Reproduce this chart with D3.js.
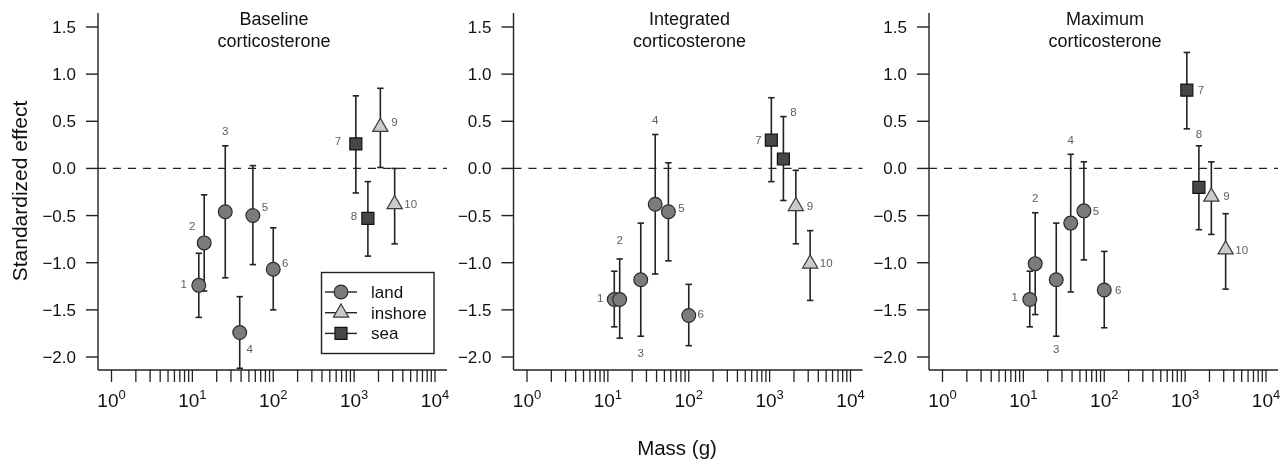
<!DOCTYPE html>
<html>
<head>
<meta charset="utf-8">
<script src="https://cdn.jsdelivr.net/npm/d3@7"></script>
<style>
  html, body { margin: 0; padding: 0; background: #fff; }
  svg { display: block; font-family: "Liberation Sans", Arial, Helvetica, sans-serif; filter: grayscale(100%); }
</style>
</head>
<body>
<svg id="chart" width="1288" height="464"></svg>
<script>
// ---------- data ----------
const species = [1, 2, 3, 4, 5, 6, 7, 8, 9, 10];
const habitat = ["land", "land", "land", "land", "land", "land", "sea", "sea", "inshore", "inshore"];
const mass = [12, 14, 25.5, 38.5, 56, 100, 1050, 1480, 2110, 3170];

const panelTitles = [["Baseline", "corticosterone"], ["Integrated", "corticosterone"], ["Maximum", "corticosterone"]];

const baselineEst = [-1.24, -0.79, -0.46, -1.74, -0.50, -1.07, 0.26, -0.53, 0.44, -0.38];
const baselineLo  = [-1.58, -1.30, -1.16, -2.12, -1.02, -1.50, -0.26, -0.93, 0.01, -0.80];
const baselineHi  = [-0.90, -0.28, 0.24, -1.36, 0.03, -0.63, 0.77, -0.14, 0.85, 0.00];

const integratedEst = [-1.39, -1.39, -1.18, -0.38, -0.46, -1.56, 0.30, 0.10, -0.40, -1.01];
const integratedLo  = [-1.68, -1.80, -1.78, -1.12, -0.98, -1.88, -0.14, -0.34, -0.80, -1.40];
const integratedHi  = [-1.09, -0.96, -0.58, 0.36, 0.06, -1.23, 0.75, 0.55, -0.02, -0.66];

const maximumEst = [-1.39, -1.01, -1.18, -0.58, -0.45, -1.29, 0.83, -0.20, -0.30, -0.86];
const maximumLo  = [-1.68, -1.55, -1.78, -1.31, -0.97, -1.69, 0.42, -0.65, -0.70, -1.28];
const maximumHi  = [-1.09, -0.47, -0.58, 0.15, 0.07, -0.88, 1.23, 0.24, 0.07, -0.48];

const yTicks = [-2.0, -1.5, -1.0, -0.5, 0.0, 0.5, 1.0, 1.5];
const xMajorExp = [0, 1, 2, 3, 4];
const legendItems = ["land", "inshore", "sea"];
const xTitle = "Mass (g)";
const yTitle = "Standardized effect";

// label placement (anchor: pt = marker, hi = top of bar, lo = bottom of bar), pixel offsets
const labelPlace = [
  [["pt",-15,-1],["pt",-12,-17],["hi",0,-15],["pt",10,16],["pt",12,-9],["pt",12,-6],["pt",-18,-3],["pt",-14,-2],["pt",14,-5],["pt",16,0]],
  [["pt",-14,-2],["hi",0,-19],["lo",0,17],["hi",0,-15],["pt",13,-4],["pt",12,-2],["pt",-13,0],["hi",10,-5],["pt",14,0],["pt",16,-1]],
  [["pt",-15,-3],["hi",0,-15],["lo",0,13],["hi",0,-14],["pt",12,0],["pt",14,0],["pt",14,0],["hi",0,-12],["pt",15,-1],["pt",16,0]]
];

const panels = [
  { title: panelTitles[0], est: baselineEst, lo: baselineLo, hi: baselineHi },
  { title: panelTitles[1], est: integratedEst, lo: integratedLo, hi: integratedHi },
  { title: panelTitles[2], est: maximumEst, lo: maximumLo, hi: maximumHi }
];

// ---------- style ----------
const style = {
  land:    { fill: "#7b7b7b", stroke: "#2a2a2a" },
  inshore: { fill: "#cbcbcb", stroke: "#3a3a3a" },
  sea:     { fill: "#474747", stroke: "#111" }
};
const ink = "#222";

function symbolPath(h) {
  if (h === "land") return d3.symbol(d3.symbolCircle, Math.PI * 6.9 * 6.9)();
  if (h === "inshore") return d3.symbol(d3.symbolTriangle, 100)();
  return d3.symbol(d3.symbolSquare, 12 * 12)();
}

const svg = d3.select("#chart");

const yScale = d3.scaleLinear().domain([-2, 1.5]).range([357, 27]);
const plotTop = 13, plotBottom = 370, plotWidth = 349;

panels.forEach((p, pi) => {
  const ax = 98 + pi * 415.5;
  const x = d3.scaleLog().domain([1, 1e4]).range([ax + 13.5, ax + 337]);
  const g = svg.append("g");

  // dashed zero line
  g.append("line")
    .attr("x1", ax).attr("x2", ax + plotWidth)
    .attr("y1", yScale(0)).attr("y2", yScale(0))
    .attr("stroke", ink).attr("stroke-width", 1.2).attr("stroke-dasharray", "8,7");

  // y axis
  g.append("line").attr("x1", ax).attr("x2", ax).attr("y1", plotTop).attr("y2", plotBottom)
    .attr("stroke", ink).attr("stroke-width", 1.4);
  yTicks.forEach(t => {
    g.append("line").attr("x1", ax - 12).attr("x2", ax).attr("y1", yScale(t)).attr("y2", yScale(t))
      .attr("stroke", ink).attr("stroke-width", 1.4);
    g.append("text").attr("x", ax - 22).attr("y", yScale(t)).attr("dy", "0.35em")
      .attr("text-anchor", "end").attr("font-size", 17).attr("fill", "#111")
      .text(t < 0 ? "\u2212" + Math.abs(t).toFixed(1) : t.toFixed(1));
  });

  // x axis
  g.append("line").attr("x1", ax).attr("x2", ax + plotWidth).attr("y1", plotBottom).attr("y2", plotBottom)
    .attr("stroke", ink).attr("stroke-width", 1.4);
  const allTicks = [];
  for (let e = 0; e < 4; e++) for (let m = 1; m <= 9; m++) allTicks.push(m * Math.pow(10, e));
  allTicks.push(1e4);
  allTicks.forEach(t => {
    g.append("line").attr("x1", x(t)).attr("x2", x(t)).attr("y1", plotBottom).attr("y2", plotBottom + 12)
      .attr("stroke", ink).attr("stroke-width", 1.3);
  });
  xMajorExp.forEach(e => {
    const tx = g.append("text").attr("x", x(Math.pow(10, e))).attr("y", 407)
      .attr("text-anchor", "middle").attr("font-size", 19).attr("fill", "#111");
    tx.append("tspan").text("10");
    tx.append("tspan").attr("dy", -8).attr("font-size", 13).text(String(e));
  });

  // title
  g.append("text").attr("x", ax + 176).attr("y", 25).attr("text-anchor", "middle")
    .attr("font-size", 18).attr("fill", "#111").text(p.title[0]);
  g.append("text").attr("x", ax + 176).attr("y", 47).attr("text-anchor", "middle")
    .attr("font-size", 18).attr("fill", "#111").text(p.title[1]);

  // error bars
  species.forEach((s, i) => {
    const cx = x(mass[i]);
    g.append("line").attr("x1", cx).attr("x2", cx).attr("y1", yScale(p.lo[i])).attr("y2", yScale(p.hi[i]))
      .attr("stroke", ink).attr("stroke-width", 1.6);
    [p.lo[i], p.hi[i]].forEach(v => {
      g.append("line").attr("x1", cx - 3.2).attr("x2", cx + 3.2).attr("y1", yScale(v)).attr("y2", yScale(v))
        .attr("stroke", ink).attr("stroke-width", 1.6);
    });
  });

  // markers
  species.forEach((s, i) => {
    const h = habitat[i];
    g.append("path").attr("d", symbolPath(h))
      .attr("transform", `translate(${x(mass[i])},${yScale(p.est[i])})`)
      .attr("fill", style[h].fill).attr("stroke", style[h].stroke).attr("stroke-width", 1.2);
  });

  // species labels
  species.forEach((s, i) => {
    const [a, dx, dy] = labelPlace[pi][i];
    const v = a === "hi" ? p.hi[i] : a === "lo" ? p.lo[i] : p.est[i];
    g.append("text").attr("x", x(mass[i]) + dx).attr("y", yScale(v) + dy).attr("dy", "0.35em")
      .attr("text-anchor", "middle").attr("font-size", 11.5).attr("fill", "#5e5e5e").text(s);
  });

  // legend in first panel
  if (pi === 0) {
    const lg = g.append("g");
    lg.append("rect").attr("x", 321.5).attr("y", 272.5).attr("width", 112.5).attr("height", 81)
      .attr("fill", "#fff").attr("stroke", ink).attr("stroke-width", 1.4);
    legendItems.forEach((h, k) => {
      const ly = 292 + k * 20.7;
      lg.append("line").attr("x1", 325).attr("x2", 357).attr("y1", ly).attr("y2", ly)
        .attr("stroke", ink).attr("stroke-width", 1.4);
      lg.append("path").attr("d", symbolPath(h)).attr("transform", `translate(341,${ly})`)
        .attr("fill", style[h].fill).attr("stroke", style[h].stroke).attr("stroke-width", 1.2);
      lg.append("text").attr("x", 371).attr("y", ly).attr("dy", "0.35em")
        .attr("font-size", 17).attr("fill", "#111").text(h);
    });
  }
});

// axis titles
svg.append("text").attr("transform", "translate(27,191) rotate(-90)").attr("text-anchor", "middle")
  .attr("font-size", 21).attr("fill", "#111").text(yTitle);
svg.append("text").attr("x", 677).attr("y", 455).attr("text-anchor", "middle")
  .attr("font-size", 20.5).attr("fill", "#111").text(xTitle);
</script>
</body>
</html>
